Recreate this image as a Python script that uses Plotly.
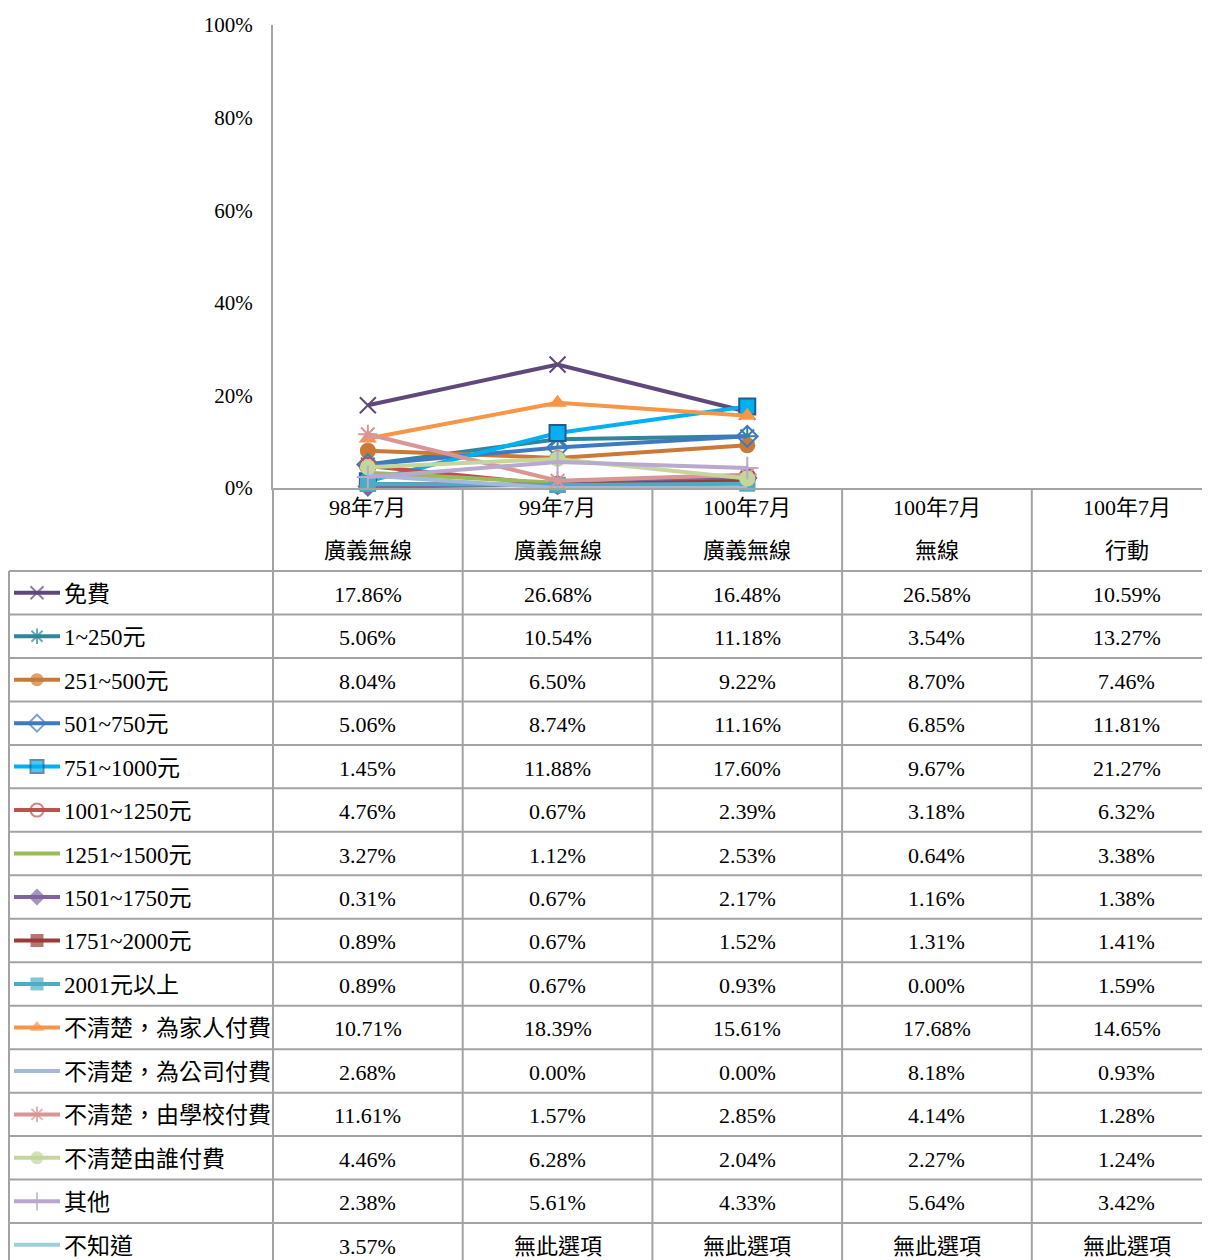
import plotly.graph_objects as go

# ---------------- data ----------------
period_line1 = ["98年7月", "99年7月", "100年7月", "100年7月", "100年7月"]
period_line2 = ["廣義無線", "廣義無線", "廣義無線", "無線", "行動"]
n_plotted = 3  # periods drawn as lines in the chart

categories = ["免費", "1~250元", "251~500元", "501~750元", "751~1000元",
              "1001~1250元", "1251~1500元", "1501~1750元", "1751~2000元",
              "2001元以上", "不清楚，為家人付費", "不清楚，為公司付費",
              "不清楚，由學校付費", "不清楚由誰付費", "其他", "不知道"]

p98_wide = [17.86, 5.06, 8.04, 5.06, 1.45, 4.76, 3.27, 0.31, 0.89, 0.89,
            10.71, 2.68, 11.61, 4.46, 2.38, 3.57]
p99_wide = [26.68, 10.54, 6.50, 8.74, 11.88, 0.67, 1.12, 0.67, 0.67, 0.67,
            18.39, 0.00, 1.57, 6.28, 5.61, None]
p100_wide = [16.48, 11.18, 9.22, 11.16, 17.60, 2.39, 2.53, 2.17, 1.52, 0.93,
             15.61, 0.00, 2.85, 2.04, 4.33, None]
p100_wireless = [26.58, 3.54, 8.70, 6.85, 9.67, 3.18, 0.64, 1.16, 1.31, 0.00,
                 17.68, 8.18, 4.14, 2.27, 5.64, None]
p100_mobile = [10.59, 13.27, 7.46, 11.81, 21.27, 6.32, 3.38, 1.38, 1.41, 1.59,
               14.65, 0.93, 1.28, 1.24, 3.42, None]
periods = [p98_wide, p99_wide, p100_wide, p100_wireless, p100_mobile]
no_option_text = "無此選項"

y_ticks = [0, 20, 40, 60, 80, 100]

# ---------------- styles ----------------
colors = ["#5F497A", "#31859C", "#CB7A35", "#3F7AC0", "#00B0F0", "#C0504D",
          "#9BBB59", "#8064A2", "#9B3A37", "#4BACC6", "#F79646", "#A5B8D9",
          "#D99694", "#C3D69B", "#B9A9CF", "#9DCFDE"]
symbols = ["x-thin-open", "asterisk-open", "circle", "diamond-open", "square",
           "circle-open", None, "diamond", "square", "square", "triangle-up",
           None, "asterisk-open", "circle", "cross-thin-open", None]
marker_edge = [None, None, None, None, "#245A8D", None, None, None, None, None,
               None, None, None, None, None, None]

# page geometry (screen pixels); the page body adds an 8px offset
SCREEN_W, SCREEN_H = 1210, 1260
OFF = 8
W, H = SCREEN_W - OFF, SCREEN_H - OFF
PLOT_L, PLOT_T, AXIS_Y = 273, 25, 488
HEADER_B = 571
ROW_H = 43.47
COL_W = 189.7
LEG_L = 9
GRID = "#A3A3A3"
FONT = "Liberation Serif, Times New Roman, Noto Sans CJK TC, serif"


def px(x):
    return (x - OFF) / W


def py(y):
    return 1 - (y - OFF) / H


fig = go.Figure()

# ---------------- chart lines ----------------
for i, name in enumerate(categories):
    ys = [periods[j][i] for j in range(n_plotted)]
    sym = symbols[i]
    is_open = sym is not None and ("open" in sym)
    edge = marker_edge[i] or colors[i]
    fig.add_trace(go.Scatter(
        x=list(range(n_plotted)), y=ys, name=name,
        mode="lines+markers" if sym else "lines",
        line=dict(color=colors[i], width=4),
        marker=dict(symbol=sym or "circle", size=16, color=colors[i],
                    line=dict(color=edge, width=2 if (is_open or marker_edge[i]) else 0)),
        cliponaxis=False, showlegend=False, xaxis="x", yaxis="y"))

# ---------------- legend keys in table (screen-pixel overlay axes) ----------------
for i, name in enumerate(categories):
    yc = HEADER_B + ROW_H * (i + 0.5)
    sym = symbols[i]
    is_open = sym is not None and ("open" in sym)
    edge = marker_edge[i] or colors[i]
    fig.add_trace(go.Scatter(
        x=[14, 37, 60], y=[yc, yc, yc],
        mode="lines+markers" if sym else "lines",
        line=dict(color=colors[i], width=4),
        marker=dict(symbol=sym or "circle", size=[0, 13, 0], color=colors[i],
                    line=dict(color=edge, width=2 if (is_open or marker_edge[i]) else 0)),
        cliponaxis=False, showlegend=False, hoverinfo="skip",
        xaxis="x2", yaxis="y2"))

# ---------------- table ----------------
shapes = []
annotations = []
n_rows = len(categories)
for k in range(n_rows + 1):
    yb = HEADER_B + ROW_H * k
    if yb > SCREEN_H:
        break
    shapes.append(dict(type="line", xref="paper", yref="paper",
                       x0=px(LEG_L), x1=1, y0=py(yb), y1=py(yb),
                       line=dict(color=GRID, width=2)))
shapes.append(dict(type="line", xref="paper", yref="paper",
                   x0=px(LEG_L), x1=px(LEG_L), y0=py(HEADER_B), y1=0,
                   line=dict(color=GRID, width=2)))
shapes.append(dict(type="line", xref="paper", yref="paper",
                   x0=px(PLOT_L), x1=px(PLOT_L), y0=py(AXIS_Y), y1=0,
                   line=dict(color=GRID, width=2)))
for j in range(len(periods) - 1):
    shapes.append(dict(type="line", xref="x", yref="paper",
                       x0=j + 0.5, x1=j + 0.5, y0=py(AXIS_Y), y1=0,
                       line=dict(color=GRID, width=2)))

for j in range(len(periods)):
    annotations.append(dict(x=j, y=py(508), xref="x", yref="paper",
                            xanchor="center", yanchor="middle",
                            text=period_line1[j], showarrow=False,
                            font=dict(size=22, family=FONT, color="black")))
    annotations.append(dict(x=j, y=py(550), xref="x", yref="paper",
                            xanchor="center", yanchor="middle",
                            text=period_line2[j], showarrow=False,
                            font=dict(size=22, family=FONT, color="black")))
for i, name in enumerate(categories):
    yc = HEADER_B + ROW_H * (i + 0.5) + 1.5
    annotations.append(dict(x=px(62), y=py(yc), xref="paper", yref="paper",
                            xanchor="left", yanchor="middle",
                            text=name, showarrow=False,
                            font=dict(size=23, family=FONT, color="black")))
    for j in range(len(periods)):
        v = periods[j][i]
        txt = no_option_text if v is None else f"{v:.2f}%"
        annotations.append(dict(x=j, y=py(yc), xref="x", yref="paper",
                                xanchor="center", yanchor="middle",
                                text=txt, showarrow=False,
                                font=dict(size=22, family=FONT, color="black")))

fig.update_layout(
    width=W, height=H, autosize=False,
    margin=dict(l=0, r=0, t=0, b=0, pad=0),
    paper_bgcolor="white", plot_bgcolor="rgba(0,0,0,0)",
    font=dict(family=FONT, color="black"),
    showlegend=False,
    xaxis=dict(domain=[px(PLOT_L), 1],
               range=[-0.5, -0.5 + (SCREEN_W - PLOT_L) / COL_W],
               showgrid=False, zeroline=False, showticklabels=False, ticks="",
               showline=True, linecolor=GRID, linewidth=2, fixedrange=True,
               automargin=False),
    yaxis=dict(domain=[py(AXIS_Y), py(PLOT_T)], range=[0, 100],
               tickvals=y_ticks, ticktext=[f"{t}%" for t in y_ticks],
               showgrid=False, zeroline=False, ticks="",
               showline=True, linecolor=GRID, linewidth=2,
               ticklabelstandoff=14, automargin=False,
               tickfont=dict(size=21, family=FONT, color="black")),
    xaxis2=dict(domain=[0, 1], range=[OFF, SCREEN_W], anchor="y2",
                visible=False, automargin=False),
    yaxis2=dict(domain=[0, 1], range=[SCREEN_H, OFF], anchor="x2",
                visible=False, automargin=False),
    shapes=shapes, annotations=annotations,
)

fig.write_html("out.html")
